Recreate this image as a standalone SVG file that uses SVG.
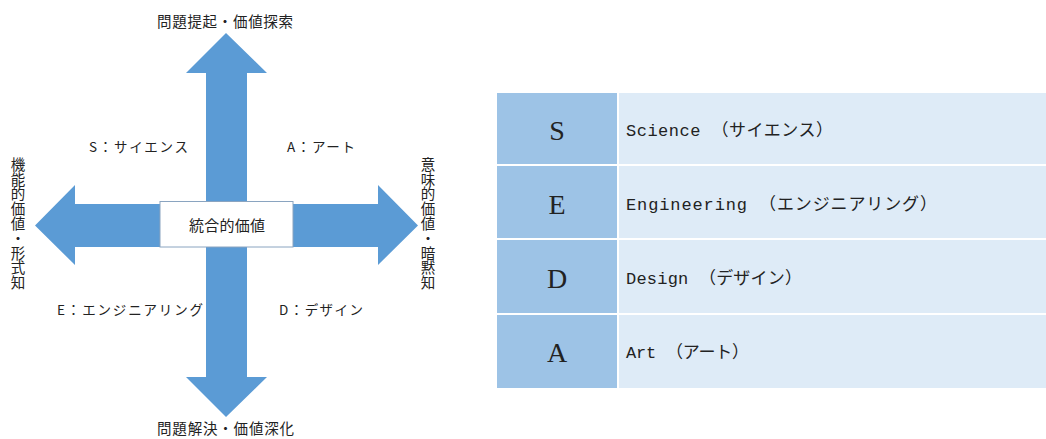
<svg xmlns="http://www.w3.org/2000/svg" width="1046" height="439" viewBox="0 0 1046 439">
<style>
.arrow{fill:#5b9bd5}
.jp{font-family:"Noto Sans CJK JP","Noto Sans",sans-serif;fill:#222}
.lbl{font-size:13.5px}
.ttl{font-size:14.5px}
.vt{font-size:14.5px;writing-mode:vertical-rl;letter-spacing:0.3px}
.c1{fill:#9dc3e6}
.c2{fill:#deebf7}
.let{font-family:"Liberation Serif",serif;font-size:28px;text-anchor:middle;fill:#222}
.desc{font-family:"Liberation Mono","Noto Sans CJK JP",monospace;font-size:17px;fill:#222}
</style>
<rect width="1046" height="439" fill="#fff"/>
<g id="connectors">
<polygon id="arrow-up" class="arrow" points="206,201 206,73 186,73 226,33 267,73 247,73 247,201"/>
<polygon id="arrow-down" class="arrow" points="206,247 206,377 186,377 226,417 267,377 247,377 247,247"/>
<polygon id="arrow-left" class="arrow" points="160,204 75,204 75,185 35,225.5 75,265 75,247 160,247"/>
<polygon id="arrow-right" class="arrow" points="293,204 378,204 378,185 418,225.5 378,265 378,247 293,247"/>
</g>
<g id="center">
<rect x="160" y="201.5" width="133" height="45.5" fill="#fff" stroke="#8aa4c0" stroke-width="1"/>
<text class="jp" x="189" y="230.5" font-size="15" textLength="76">統合的価値</text>
</g>
<g id="top-label"><text class="jp ttl" x="157" y="27" textLength="136">問題提起・価値探索</text></g>
<g id="bottom-label"><text class="jp ttl" x="157" y="434" textLength="137">問題解決・価値深化</text></g>
<g id="left-label"><text class="jp vt" x="18" y="157">機能的価値・形式知</text></g>
<g id="right-label"><text class="jp vt" x="428" y="157">意味的価値・暗黙知</text></g>
<g id="quadrants">
<text class="jp lbl" x="89" y="152" textLength="99">S：サイエンス</text>
<text class="jp lbl" x="287" y="152" textLength="68">A：アート</text>
<text class="jp lbl" x="57" y="315" textLength="146">E：エンジニアリング</text>
<text class="jp lbl" x="279" y="315" textLength="84">D：デザイン</text>
</g>
<g id="table">
<rect class="c1" x="497" y="93" width="121" height="295"/>
<rect class="c2" x="618" y="93" width="428" height="295"/>
<g stroke="#fff" stroke-width="2">
<line x1="497" y1="165" x2="1046" y2="165"/>
<line x1="497" y1="239" x2="1046" y2="239"/>
<line x1="497" y1="314" x2="1046" y2="314"/>
<line x1="618" y1="93" x2="618" y2="388"/>
</g>
<text class="let" x="557" y="140">S</text>
<text class="let" x="557" y="214">E</text>
<text class="let" x="557" y="288">D</text>
<text class="let" x="557" y="362">A</text>
<text class="desc" x="626" y="136" textLength="207">Science （サイエンス）</text>
<text class="desc" x="626" y="210" textLength="311">Engineering （エンジニアリング）</text>
<text class="desc" x="626" y="284" textLength="176">Design （デザイン）</text>
<text class="desc" x="626" y="358" textLength="123">Art （アート）</text>
</g>
</svg>
